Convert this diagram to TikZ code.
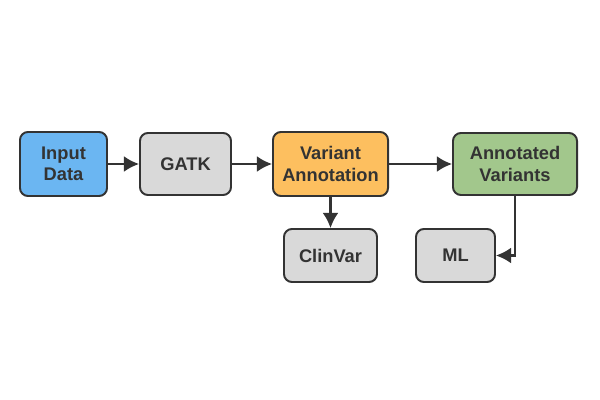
\documentclass[tikz,border=0pt]{standalone}
\usepackage{fontspec}
\setmainfont{Liberation Sans}
\usetikzlibrary{arrows.meta, positioning}
\definecolor{boxBorder}{HTML}{333333}
\definecolor{boxBlue}{HTML}{6BB6F2}
\definecolor{boxGray}{HTML}{D9D9D9}
\definecolor{boxOrange}{HTML}{FDBF5F}
\definecolor{boxGreen}{HTML}{A2C78C}
\tikzset{
    stage/.style={rectangle, rounded corners=2mm, draw=boxBorder, line width=1.4pt, align=center, text=boxBorder, inner sep=2pt, font=\bfseries\fontsize{13}{15}\selectfont},
    stageBlue/.style={stage, fill=boxBlue},
    stageGray/.style={stage, fill=boxGray},
    stageOrange/.style={stage, fill=boxOrange},
    stageGreen/.style={stage, fill=boxGreen},
    flowEdge/.style={-{Latex[length=3.8mm, width=4mm]}, draw=boxBorder, line width=1.5pt},
}
\begin{document}
\begin{tikzpicture}[x=0.025cm, y=-0.025cm]
    \useasboundingbox (0,0) rectangle (600,400);

    % main row
    \node[stageBlue, minimum width=2.175cm, minimum height=1.6cm] (input) at (63.5, 164) {Input\\Data};
    \node[stageGray, minimum width=2.275cm, minimum height=1.55cm] (gatk) at (185.5, 164) {GATK};
    \node[stageOrange, minimum width=2.875cm, minimum height=1.6cm] (annot) at (330.5, 164) {Variant\\Annotation};
    \node[stageGreen, minimum width=3.1cm, minimum height=1.55cm] (annotated) at (515, 164) {Annotated\\Variants};

    % lower row
    \node[stageGray, minimum width=2.325cm, minimum height=1.325cm] (clinvar) at (330.5, 255.5) {ClinVar};
    \node[stageGray, minimum width=1.975cm, minimum height=1.325cm] (ml) at (455.5, 255.5) {ML};

    \draw[flowEdge] (input) -- (gatk);
    \draw[flowEdge] (gatk) -- (annot);
    \draw[flowEdge] (annot) -- (annotated);
    \draw[flowEdge] (annot) -- (clinvar);
    \draw[flowEdge] (annotated.south) |- (ml.east);

\end{tikzpicture}
\end{document}
